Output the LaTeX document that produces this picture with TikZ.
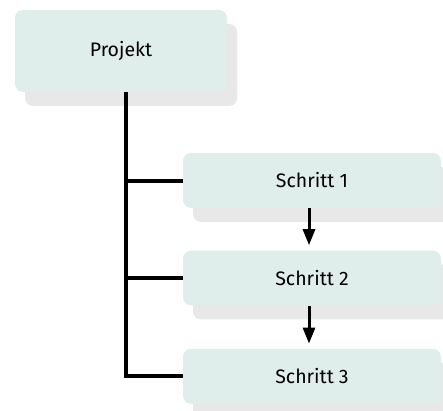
\documentclass[tikz,border=0pt]{standalone}
\usepackage{fontspec}
\setmainfont{Fira Sans}
\usepackage{xcolor}
\usepackage{tikz}
\usetikzlibrary{arrows.meta, positioning, shadows}
\definecolor{boxfill}{RGB}{224, 238, 235}
\definecolor{shadowgray}{RGB}{232, 232, 232}

\begin{document}
\begin{tikzpicture}[
    x=1pt, y=1pt,
    stage/.style={fill=boxfill, rounded corners=8pt, font=\fontsize{19.5}{22}\selectfont,
        drop shadow={shadow xshift=10pt, shadow yshift=-14pt, fill=shadowgray, opacity=1}},
    top/.style={stage, minimum width=212pt, minimum height=82pt},
    sub/.style={stage, minimum width=258pt, minimum height=55pt},
    tree/.style={line width=4pt, black},
    next/.style={-{Triangle[length=16pt, width=12pt]}, line width=3pt, shorten >=5pt}
]
    \useasboundingbox (0,0) rectangle (443,410);
    \clip (0,0) rectangle (443,410);

    % Nodes
    \node[top] (projekt) at (121,359) {Projekt};
    \node[sub] (schritt1) at (312,229.5) {Schritt 1};
    \node[sub, below=42pt of schritt1] (schritt2) {Schritt 2};
    \node[sub, below=43pt of schritt2] (schritt3) {Schritt 3};

    % Tree lines
    \coordinate (trunk) at ([xshift=5pt]projekt.south);
    \draw[tree] (trunk) |- (schritt3.west);
    \draw[tree] (trunk |- schritt1.west) -- (schritt1.west);
    \draw[tree] (trunk |- schritt2.west) -- (schritt2.west);

    % Arrows
    \draw[next] ([xshift=-3pt]schritt1.south) -- ([xshift=-3pt]schritt2.north);
    \draw[next] ([xshift=-3pt]schritt2.south) -- ([xshift=-3pt]schritt3.north);
\end{tikzpicture}
\end{document}
